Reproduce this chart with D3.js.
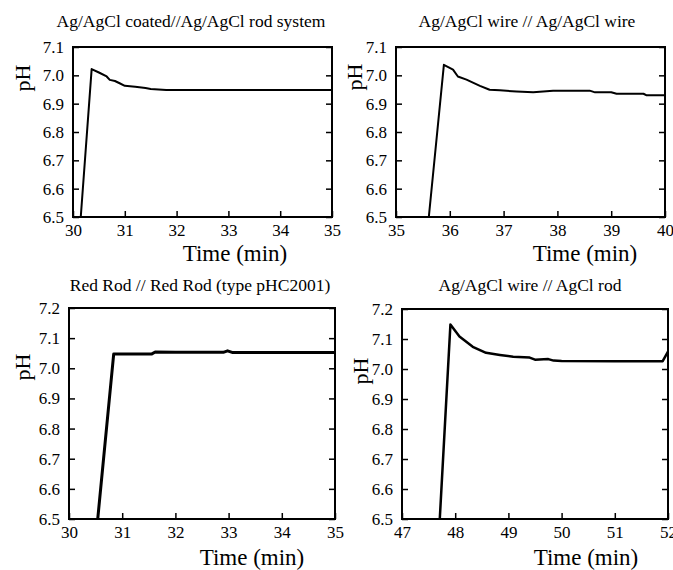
<!DOCTYPE html>
<html>
<head>
<meta charset="utf-8">
<script src="https://cdn.jsdelivr.net/npm/d3@7"></script>
<style>
  body { margin: 0; background: #fff; }
</style>
</head>
<body>
<svg id="chart" width="673" height="570"></svg>
<script>
// panel 1: Ag/AgCl coated // Ag/AgCl rod
const time1 = [30.15, 30.36, 30.5, 30.65, 30.71, 30.81, 30.9, 31.0, 31.2, 31.4, 31.5, 31.8, 32.5, 33.5, 34.2, 35.0]
const ph1   = [6.5, 7.022, 7.01, 6.996, 6.984, 6.98, 6.972, 6.963, 6.96, 6.955, 6.952, 6.948, 6.948, 6.948, 6.948, 6.948]

// panel 2: Ag/AgCl wire // Ag/AgCl wire
const time2 = [35.61, 35.89, 36.06, 36.15, 36.31, 36.56, 36.74, 36.93, 37.24, 37.55, 37.92, 38.3, 38.6, 38.7, 39.0, 39.1, 39.6, 39.65, 40.0]
const ph2   = [6.5, 7.037, 7.02, 6.996, 6.985, 6.963, 6.949, 6.947, 6.943, 6.94, 6.946, 6.946, 6.946, 6.94, 6.94, 6.935, 6.935, 6.93, 6.93]

// panel 3: Red Rod // Red Rod
const time3 = [30.54, 30.84, 31.2, 31.55, 31.62, 32.0, 32.9, 32.98, 33.08, 34.0, 35.0]
const ph3   = [6.5, 7.047, 7.047, 7.047, 7.054, 7.053, 7.053, 7.058, 7.052, 7.052, 7.052]

// panel 4: Ag/AgCl wire // AgCl rod
const time4 = [47.71, 47.91, 48.08, 48.33, 48.58, 48.84, 49.09, 49.4, 49.5, 49.75, 49.85, 50.0, 51.0, 51.9, 52.0]
const ph4   = [6.5, 7.148, 7.108, 7.074, 7.054, 7.047, 7.041, 7.038, 7.031, 7.033, 7.028, 7.027, 7.026, 7.026, 7.058]

const titles = ["Ag/AgCl coated//Ag/AgCl rod system", "Ag/AgCl wire // Ag/AgCl wire",
                "Red Rod // Red Rod (type pHC2001)", "Ag/AgCl wire // AgCl rod"]
const xDomains = [[30, 35], [35, 40], [30, 35], [47, 52]]
const yDomains = [[6.5, 7.1], [6.5, 7.1], [6.5, 7.2], [6.5, 7.2]]

const FONT = "'Liberation Serif', 'Times New Roman', serif"
const svg = d3.select("#chart").attr("font-family", FONT)

// frame box, title/label positions for each panel
const panels = [
  {x0: 73, x1: 332, y0: 47, y1: 217, tx: 191, ty: 27, lx: 235, ly: 261, px: 23, py: 78, lw: 2, time: time1, ph: ph1},
  {x0: 396, x1: 665, y0: 47, y1: 217, tx: 527, ty: 27, lx: 585, ly: 261, px: 355, py: 77, lw: 2, time: time2, ph: ph2},
  {x0: 69, x1: 335, y0: 308, y1: 519, tx: 200, ty: 291, lx: 252, ly: 565, px: 23, py: 367, lw: 3, time: time3, ph: ph3},
  {x0: 402, x1: 668, y0: 309, y1: 519, tx: 530, ty: 291, lx: 586, ly: 565, px: 361, py: 371, lw: 2.5, time: time4, ph: ph4}
]

panels.forEach(function(p, i) {
  const x = d3.scaleLinear().domain(xDomains[i]).range([p.x0, p.x1])
  const y = d3.scaleLinear().domain(yDomains[i]).range([p.y1, p.y0])
  const xt = d3.range(xDomains[i][0], xDomains[i][1] + 0.5, 1)
  const yt = d3.range(0, Math.round((yDomains[i][1] - yDomains[i][0]) * 10) + 1).map(k => yDomains[i][0] + k / 10)

  const g = svg.append("g")

  // bottom axis, ticks pointing inward
  const xb = g.append("g").attr("transform", `translate(0,${p.y1})`)
    .call(d3.axisBottom(x).tickValues(xt).tickSize(-6).tickPadding(7).tickFormat(d3.format("d")))
  // left axis
  const yl = g.append("g").attr("transform", `translate(${p.x0},0)`)
    .call(d3.axisLeft(y).tickValues(yt).tickSize(-6).tickPadding(9).tickFormat(d3.format(".1f")))
  // right axis, ticks only
  const yr = g.append("g").attr("transform", `translate(${p.x1},0)`)
    .call(d3.axisRight(y).tickValues(yt).tickSize(-6).tickFormat(""))

  ;[xb, yl, yr].forEach(a => {
    a.attr("font-family", FONT).attr("font-size", 17)
    a.select(".domain").remove()
    a.selectAll(".tick line").attr("stroke", "#000").attr("stroke-width", 1.5)
    a.selectAll("text").attr("fill", "#000")
  })
  xb.selectAll(".tick text").attr("dy", "0.71em")

  // data line
  const line = d3.line().x((d, k) => x(p.time[k])).y(d => y(d))
  g.append("path").datum(p.ph)
    .attr("d", line)
    .attr("fill", "none")
    .attr("stroke", "#000")
    .attr("stroke-width", p.lw)
    .attr("stroke-linejoin", "round")

  // frame
  g.append("rect")
    .attr("x", p.x0).attr("y", p.y0)
    .attr("width", p.x1 - p.x0).attr("height", p.y1 - p.y0)
    .attr("fill", "none").attr("stroke", "#000").attr("stroke-width", 2)

  g.append("text").attr("x", p.tx).attr("y", p.ty)
    .attr("text-anchor", "middle").attr("font-size", 17.5).text(titles[i])
  g.append("text").attr("x", p.lx).attr("y", p.ly)
    .attr("text-anchor", "middle").attr("font-size", 23).text("Time (min)")
  g.append("text")
    .attr("transform", `translate(${p.px + 7},${p.py}) rotate(-90)`)
    .attr("text-anchor", "middle").attr("font-size", 22).text("pH")
})
</script>
</body>
</html>
